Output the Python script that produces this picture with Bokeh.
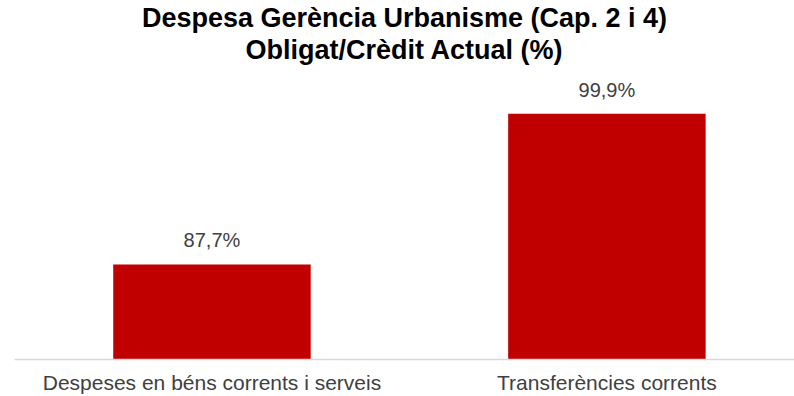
from bokeh.plotting import figure
from bokeh.models import ColumnDataSource, Range1d, FixedTicker, Title
from bokeh.core.properties import value
from bokeh.embed import file_html
from bokeh.resources import INLINE

categories = ["Despeses en béns corrents i serveis", "Transferències corrents"]
values = [87.7, 99.9]
labels = ["87,7%", "99,9%"]
title_lines = ["Despesa Gerència Urbanisme (Cap. 2 i 4)", "Obligat/Crèdit Actual (%)"]

xs = list(range(len(categories)))
src = ColumnDataSource(dict(x=xs, top=values, label=labels))

p = figure(width=794, height=396, output_backend="svg", toolbar_location=None,
           x_range=Range1d(-0.5, 1.475), y_range=Range1d(80, 103.9),
           min_border_left=14, min_border_right=0, min_border_bottom=0, min_border_top=0)

p.vbar(x="x", top="top", bottom=80, width=0.5, source=src,
       fill_color="#C00000", line_color=None)
p.text(x="x", y="top", text="label", source=src, text_align="center",
       text_baseline="alphabetic", y_offset=-24, text_font_size="20px",
       text_color="#404040", text_font=value("Liberation Sans"))

t2 = Title(text=title_lines[1], align="center", text_font_size="27px",
           text_font="Liberation Sans", text_font_style="bold", text_color="#000000",
           standoff=0)
t1 = Title(text=title_lines[0], align="center", text_font_size="27px",
           text_font="Liberation Sans", text_font_style="bold", text_color="#000000",
           standoff=0)
p.title = None
p.add_layout(t2, "above")
p.add_layout(t1, "above")

p.yaxis.visible = False
xa = p.xaxis[0]
xa.ticker = FixedTicker(ticks=xs)
xa.major_label_overrides = {i: c for i, c in zip(xs, categories)}
xa.major_tick_line_color = None
xa.minor_tick_line_color = None
xa.axis_line_color = "#D9D9D9"
xa.axis_line_width = 1.5
xa.major_label_text_font = "Liberation Sans"
xa.major_label_text_font_size = "21px"
xa.major_label_text_color = "#404040"
xa.major_label_standoff = 5

p.xgrid.visible = False
p.ygrid.visible = False
p.outline_line_color = None

open("out.html", "w").write(file_html(p, INLINE))
